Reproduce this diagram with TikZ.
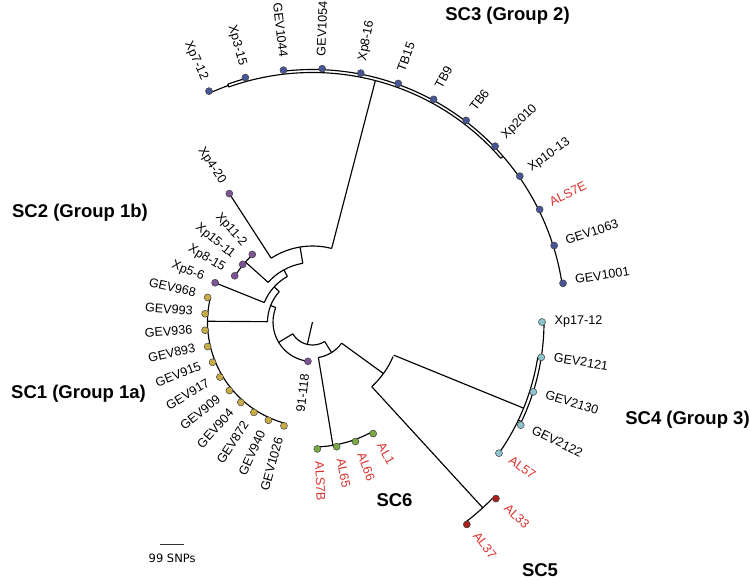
\documentclass[tikz,border=0pt]{standalone}
\usepackage{fontspec}
\setmainfont{Liberation Sans}
\newfontfamily\barfont{DejaVu Sans}
\usetikzlibrary{positioning}
\definecolor{scthree}{RGB}{72,86,152}
\definecolor{sctwo}{RGB}{124,84,150}
\definecolor{scone}{RGB}{200,172,72}
\definecolor{scsix}{RGB}{122,170,70}
\definecolor{scfive}{RGB}{168,32,32}
\definecolor{scfour}{RGB}{142,196,206}
\definecolor{labred}{RGB}{218,50,46}
\tikzset{
  branch/.style={line width=1.15pt,black},
  tipdot/.style={circle,inner sep=0pt,minimum size=7pt,draw=black!75,line width=0.5pt},
  tiplab/.style={inner sep=0pt,font=\fontsize{12.6}{14}\selectfont},
  grouplab/.style={inner sep=0.5pt,font=\bfseries\fontsize{18.5}{22}\selectfont}
}
\begin{document}
\begin{tikzpicture}
  \useasboundingbox (-312.5pt,-257pt) rectangle (437.5pt,322pt);
  % internal nodes: name/angle/radius/parent radius/arc from/arc to
  \foreach \nm/\ang/\r/\pr/\lo/\hi in {
      root/257/23/0/211/302,
      nD/302/36/23/279.4/324,
      nE/324/87.7/36/312.5/336.8,
      scfive/312.5/252/87.7/307.3/316.1,
      scfour/337.8/228/87.7/324.9/351.2,
      scsix/279.4/125/36/272.2/298.5,
      nC/211/39.5/23/158.5/263.4,
      nF/158.5/45/39.5/137.5/179.6,
      scone/179.6/105/45/166.8/254.6,
      nG/137.5/52/45/118.8/158,
      nB/118.8/59.5/52/99.4/138.2,
      cone/138.2/90/59.5/131.7/149.3,
      nA/99.4/76/59.5/75.4/122.9,
      scthree/75.4/249.5/76/41/109.6}{
    \coordinate (\nm) at (\ang:\r pt);
    \draw[branch] (\ang:\pr pt) -- (\nm);
    \draw[branch] (\lo:\r pt) arc[start angle=\lo,end angle=\hi,radius=\r pt];
  }
  % nested arcs lying close beside the clade arcs: radius/from/to
  \foreach \r/\lo/\hi in {251/109.6/114.1, 252.5/105.3/109.6, 252.5/8.8/41,
      252.5/41/96.5, 231.5/334.5/360}{
    \draw[branch] (\lo:\r pt) arc[start angle=\lo,end angle=\hi,radius=\r pt];
  }
  \draw[branch] (109.6:249.5pt) -- (109.6:252.5pt);
  \draw[branch] (41:249.5pt) -- (41:252.5pt);
  \draw[branch] (334.5:228pt) -- (334.5:231.5pt);
  % tips: index/tip radius/parent radius/label/dot colour/label colour
  \foreach \i/\r/\pr/\nm/\col/\lc in {
      1/253.5/252.5/GEV1001/scthree/black, 2/253.5/252.5/GEV1063/scthree/black,
      3/253.5/252.5/ALS7E/scthree/labred, 4/253.5/252.5/Xp10-13/scthree/black,
      5/253.5/252.5/Xp2010/scthree/black, 6/253.5/252.5/TB6/scthree/black,
      7/253.5/252.5/TB9/scthree/black, 8/253.5/252.5/TB15/scthree/black,
      9/253.5/252.5/Xp8-16/scthree/black, 10/253.5/252.5/GEV1054/scthree/black,
      11/253.5/252.5/GEV1044/scthree/black, 12/253.5/252.5/Xp3-15/scthree/black,
      13/253/251/Xp7-12/scthree/black, 14/153/76/Xp4-20/sctwo/black,
      15/90.5/90/Xp11-2/sctwo/black, 16/90.5/90/Xp15-11/sctwo/black,
      17/90.5/90/Xp8-15/sctwo/black, 18/105/52/Xp5-6/sctwo/black,
      19/107.7/105/GEV968/scone/black, 20/107.7/105/GEV993/scone/black,
      21/107.7/105/GEV936/scone/black, 22/107.7/105/GEV893/scone/black,
      23/107.7/105/GEV915/scone/black, 24/107.7/105/GEV917/scone/black,
      25/107.7/105/GEV909/scone/black, 26/107.7/105/GEV904/scone/black,
      27/107.7/105/GEV872/scone/black, 28/107.7/105/GEV940/scone/black,
      29/107.7/105/GEV1026/scone/black, 30/39.6/39.5/91-118/sctwo/black,
      31/127/125/ALS7B/scsix/labred, 32/127/125/AL65/scsix/labred,
      33/127/125/AL66/scsix/labred, 34/127/125/AL1/scsix/labred,
      35/254.6/252/AL37/scfive/labred, 36/254.6/252/AL33/scfive/labred,
      37/228/228/AL57/scfour/labred, 38/232.4/231.5/GEV2122/scfour/black,
      39/231.6/231.5/GEV2130/scfour/black, 40/231.5/231.5/GEV2121/scfour/black,
      41/229.5/231.5/Xp17-12/scfour/black}{
    \pgfmathsetmacro\a{\i*360/41}
    \pgfmathtruncatemacro\flip{(\a>90)*(\a<270)}
    \pgfmathsetmacro\rot{\a-180*\flip}
    \ifnum\flip=1 \def\anc{mid east}\else\def\anc{mid west}\fi
    \draw[branch] (\a:\pr pt) -- (\a:\r pt);
    \node[tipdot,fill=\col] (t\i) at (\a:\r pt) {};
    \node[tiplab,text=\lc,rotate=\rot,anchor=\anc] (l\i) at (\a:\r pt+12.5pt) {\nm};
  }
  % clade titles
  \node[grouplab] (gthree) at (195pt,306pt) {SC3 (Group 2)};
  \node[grouplab] (gtwo) at (-232.5pt,109pt) {SC2 (Group 1b)};
  \node[grouplab] (gone) at (-234pt,-72pt) {SC1 (Group 1a)};
  \node[grouplab] (gfour) at (375pt,-98pt) {SC4 (Group 3)};
  \node[grouplab] (gsix) at (82pt,-178pt) {SC6};
  \node[grouplab] (gfive) at (227.5pt,-248pt) {SC5};
  % scale bar
  \coordinate (sbl) at (-152.5pt,-222.3pt);
  \coordinate (sbm) at (-140.35pt,-222.3pt);
  \coordinate (sbr) at (-128.2pt,-222.3pt);
  \draw[line width=1.2pt,black!80] (sbl) -- (sbr);
  \node[font=\barfont\fontsize{11.5}{13}\selectfont,inner sep=0pt,below=9pt of sbm] (sbt) {99 SNPs};
\end{tikzpicture}
\end{document}
